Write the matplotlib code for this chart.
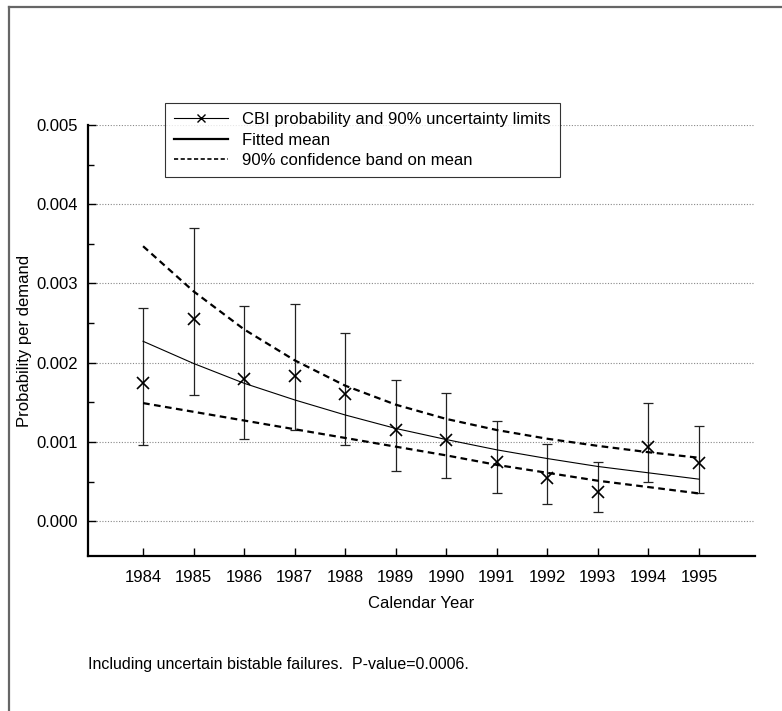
import matplotlib.pyplot as plt
from matplotlib.lines import Line2D

plt.rcParams['font.family'] = ['Liberation Sans', 'DejaVu Sans']

years = [1984, 1985, 1986, 1987, 1988, 1989, 1990, 1991, 1992, 1993, 1994, 1995]

# CBI probability with 90% uncertainty limits
cbi = [0.00174, 0.00255, 0.00179, 0.00183, 0.00160, 0.00115, 0.00102, 0.00075, 0.00055, 0.00037, 0.00094, 0.00073]
cbi_upper = [0.00269, 0.00370, 0.00272, 0.00274, 0.00238, 0.00178, 0.00162, 0.00127, 0.00097, 0.00075, 0.00149, 0.00120]
cbi_lower = [0.00096, 0.00159, 0.00104, 0.00115, 0.00096, 0.00063, 0.00054, 0.00036, 0.00022, 0.00011, 0.00050, 0.00035]

fitted = [0.00227, 0.00199, 0.00174, 0.00153, 0.00134, 0.00117, 0.00103, 0.00090, 0.00079, 0.00069, 0.00061, 0.00053]
band_upper = [0.00347, 0.00290, 0.00242, 0.00203, 0.00171, 0.00147, 0.00129, 0.00115, 0.00104, 0.00095, 0.00087, 0.00080]
band_lower = [0.00149, 0.00138, 0.00127, 0.00116, 0.00105, 0.00094, 0.00083, 0.00071, 0.00061, 0.00051, 0.00043, 0.00035]

fig = plt.figure(figsize=(7.82, 7.11), dpi=100)
ax = fig.add_axes([88/782, 1 - 556/711, (755-88)/782, (556-125)/711])

yerr = [[c - l for c, l in zip(cbi, cbi_lower)], [u - c for c, u in zip(cbi, cbi_upper)]]
ax.errorbar(years, cbi, yerr=yerr, fmt='none', ecolor='#222222', elinewidth=0.9, capsize=3.5, capthick=0.9)
ax.plot(years, cbi, linestyle='none', marker='x', color='black', markersize=8, markeredgewidth=1.2)
ax.plot(years, fitted, color='black', lw=0.8)
ax.plot(years, band_upper, color='black', lw=1.6, linestyle=(0, (3, 2)))
ax.plot(years, band_lower, color='black', lw=1.6, linestyle=(0, (3, 2)))

ax.set_xlim(1982.91, 1996.11)
ax.set_ylim(-0.00044, 0.005)
ax.set_xticks(years)
ax.set_yticks([0.0, 0.001, 0.002, 0.003, 0.004, 0.005])
ax.set_yticklabels(['0.000', '0.001', '0.002', '0.003', '0.004', '0.005'])
ax.set_yticks([0.0005, 0.0015, 0.0025, 0.0035, 0.0045], minor=True)
ax.tick_params(axis='both', direction='in', labelsize=12, length=6, width=1)
ax.tick_params(axis='y', pad=7)
ax.tick_params(axis='x', pad=10)
ax.tick_params(axis='y', which='minor', direction='in', length=4, width=1)
ax.grid(axis='y', which='major', color='#888888', linestyle=(0, (1, 1.5)), lw=0.8)

for s in ['top', 'right']:
    ax.spines[s].set_visible(False)
for s in ['left', 'bottom']:
    ax.spines[s].set_linewidth(1.6)

ax.set_xlabel('Calendar Year', fontsize=12, labelpad=8)
ax.set_ylabel('Probability per demand', fontsize=12, labelpad=3)

handles = [
    Line2D([], [], color='black', lw=0.8, marker='x', markersize=6, markevery=[1]),
    Line2D([], [], color='black', lw=1.6),
    Line2D([], [], color='black', lw=1.2, linestyle=(0, (2.5, 1.5))),
]
handles[0].set_data([0, 1, 2], [0, 0, 0])
labels = ['CBI probability and 90% uncertainty limits', 'Fitted mean', '90% confidence band on mean']
leg = fig.legend(handles, labels, loc='upper left', bbox_to_anchor=(165/782, 1 - 103/711),
                 frameon=True, fancybox=False, edgecolor='black', fontsize=12,
                 handlelength=3.2, handletextpad=0.9, borderpad=0.55, labelspacing=0.33,
                 borderaxespad=0)
leg.get_frame().set_linewidth(0.8)

fig.text(88/782, 1 - 665/711, 'Including uncertain bistable failures.  P-value=0.0006.', fontsize=11.5,
         va='center', ha='left')

# figure frame (top and left edges)
fig.add_artist(Line2D([9/782, 1], [1 - 7/711, 1 - 7/711], transform=fig.transFigure, color='#666666', lw=1.6))
fig.add_artist(Line2D([9/782, 9/782], [0, 1 - 7/711], transform=fig.transFigure, color='#666666', lw=1.6))

fig.savefig('out.png', dpi=100)
